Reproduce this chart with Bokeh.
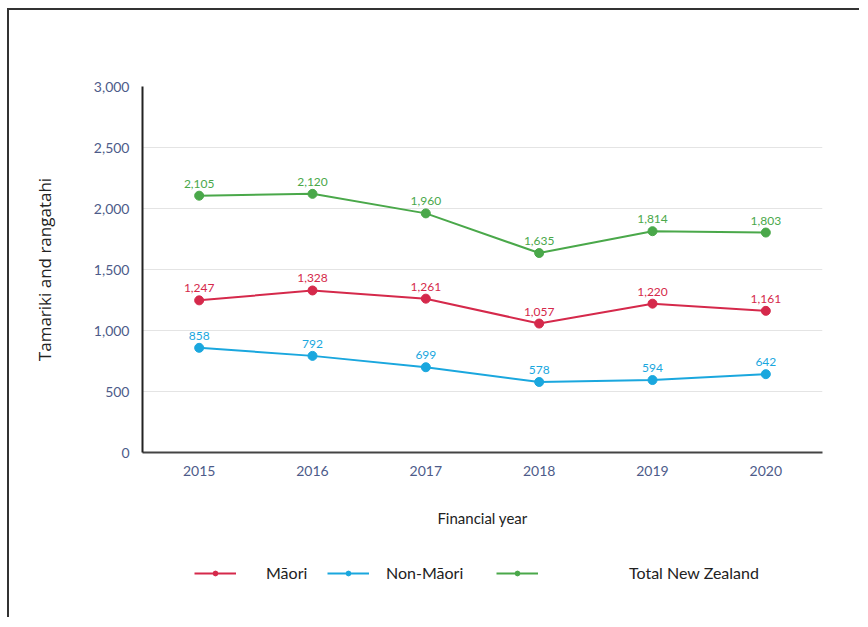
from bokeh.plotting import figure
from bokeh.layouts import column
from bokeh.models import (ColumnDataSource, Range1d, FixedTicker, NumeralTickFormatter,
                          Legend, LegendItem)
from bokeh.embed import file_html
from bokeh.resources import INLINE
from bokeh.core.properties import value

years = [2015, 2016, 2017, 2018, 2019, 2020]
maori = [1247, 1328, 1261, 1057, 1220, 1161]
non_maori = [858, 792, 699, 578, 594, 642]
total_nz = [2105, 2120, 1960, 1635, 1814, 1803]
series_names = ["Māori", "Non-Māori", "Total New Zealand"]
y_ticks = [0, 500, 1000, 1500, 2000, 2500, 3000]

colors = ["#d5294b", "#1aa7de", "#4aa84a"]
tick_color = "#4d5b8a"
FONT = "Lato"

W = 850
H_MAIN = 537
H_LEG = 70

p = figure(width=W, height=H_MAIN, output_backend="svg", toolbar_location=None,
           x_range=Range1d(2014.5, 2020.5), y_range=Range1d(0, 3000),
           min_border_left=133, min_border_right=37, min_border_top=76, min_border_bottom=95)
p.outline_line_color = None
p.background_fill_color = "white"
p.border_fill_color = "white"

p.xgrid.grid_line_color = None
p.ygrid.grid_line_color = "#e4e4e4"
p.ygrid.grid_line_width = 1

p.yaxis.ticker = FixedTicker(ticks=y_ticks)
p.yaxis.formatter = NumeralTickFormatter(format="0,0")
p.xaxis.ticker = FixedTicker(ticks=years)

for ax in (p.xaxis[0], p.yaxis[0]):
    ax.major_tick_line_color = None
    ax.minor_tick_line_color = None
    ax.major_label_text_color = tick_color
    ax.major_label_text_font = FONT
    ax.major_label_text_font_size = "14px"
    ax.axis_label_text_font_style = "normal"
    ax.axis_label_text_color = "#222222"

p.xaxis.axis_label_text_font = FONT
p.xaxis.axis_label_text_font_size = "15px"
p.yaxis.axis_label_text_font = "Open Sans"
p.yaxis.axis_label_text_font_size = "17px"

p.yaxis.axis_line_color = "#222222"
p.yaxis.axis_line_width = 2
p.xaxis.axis_line_color = "#444444"
p.xaxis.axis_line_width = 2
p.yaxis.major_label_standoff = 7
p.xaxis.major_label_standoff = 7
p.yaxis.axis_label_standoff = 35
p.xaxis.axis_label_standoff = 30
p.yaxis.axis_label = "Tamariki and rangatahi"
p.xaxis.axis_label = "Financial year"

# legend strip below the chart (its frame is aligned with the chart's frame)
lg = figure(width=W, height=H_LEG, output_backend="svg", toolbar_location=None,
            x_range=Range1d(0, 1), y_range=Range1d(0, 1),
            x_axis_location=None, y_axis_location=None,
            min_border_left=0, min_border_right=0, min_border_top=0, min_border_bottom=0)
lg.grid.visible = False
lg.outline_line_color = None
lg.border_fill_color = "white"
lg.background_fill_color = "white"

leg_x = [52, 185, 354]
leg_standoff = [30, 17, 91]

for name, vals, col, lx, ls in zip(series_names, [maori, non_maori, total_nz], colors,
                                   leg_x, leg_standoff):
    src = ColumnDataSource(dict(x=years, y=vals, lab=[f"{v:,}" for v in vals]))
    p.line("x", "y", source=src, line_color=col, line_width=2)
    p.scatter("x", "y", source=src, size=9, fill_color=col, line_color=col)
    p.text("x", "y", text="lab", source=src, text_color=col, text_font=value(FONT),
           text_font_size="12px", text_align="center", text_baseline="bottom", y_offset=-8)

    # off-canvas sample glyphs used only for the legend keys
    leg_src = ColumnDataSource(dict(x=[-10], y=[-10]))
    ln = lg.line("x", "y", source=leg_src, line_color=col, line_width=2)
    dot = lg.scatter("x", "y", source=leg_src, size=5, fill_color=col, line_color=col)
    legend = Legend(items=[LegendItem(label=name, renderers=[ln, dot])],
                    location=(lx, 35), orientation="horizontal",
                    label_text_font=FONT, label_text_font_size="16px",
                    label_text_color="#222222", glyph_width=42, glyph_height=12,
                    label_standoff=ls, border_line_color=None,
                    background_fill_alpha=0, padding=0, margin=0)
    lg.add_layout(legend)

layout = column(p, lg, spacing=0,
                styles={"border-top": "2px solid #333333", "border-left": "2px solid #333333",
                        "margin-top": "8px", "margin-left": "7px"})
open("out.html", "w").write(file_html(layout, INLINE))
